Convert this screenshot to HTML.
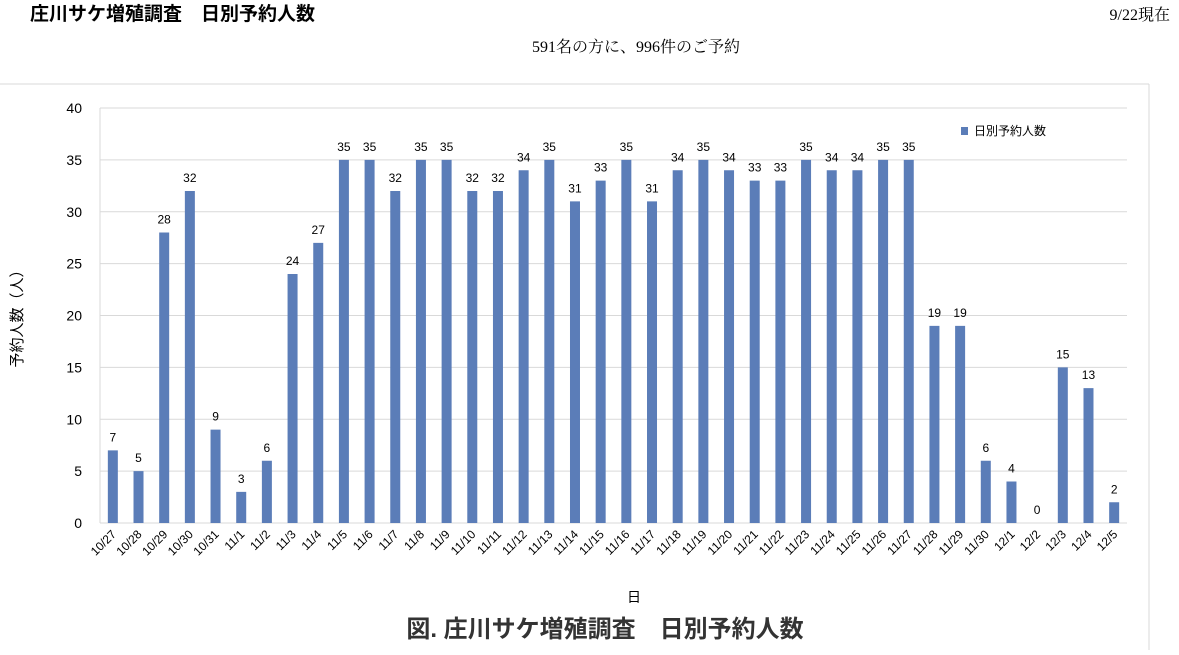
<!DOCTYPE html>
<html><head><meta charset="utf-8">
<style>
body{margin:0;background:#fff;width:1179px;height:650px;overflow:hidden;font-family:"Liberation Sans","Noto Sans CJK JP",sans-serif;}
</style></head>
<body>
<svg width="1179" height="650" xmlns="http://www.w3.org/2000/svg">
<text x="30" y="20" font-size="19" font-weight="bold" font-family="Liberation Sans,Noto Sans CJK JP,sans-serif">庄川サケ増殖調査　日別予約人数</text>
<text x="1170" y="20" font-size="16" text-anchor="end" font-family="Liberation Serif,Noto Serif CJK SC,serif">9/22現在</text>
<text x="636" y="52" font-size="16" text-anchor="middle" font-family="Liberation Serif,Noto Serif CJK SC,serif">591名の方に、996件のご予約</text>
<line x1="0" y1="84" x2="1149" y2="84" stroke="#d9d9d9"/>
<line x1="1149" y1="84" x2="1149" y2="650" stroke="#d9d9d9"/>
<g id="grid"></g><g id="bars"></g><g id="labels"></g>
<text transform="translate(22,315) rotate(-90)" font-size="15" text-anchor="middle">予約人数（人）</text>
<text x="634" y="602" font-size="14" text-anchor="middle">日</text>
<rect x="961" y="127" width="7" height="8" fill="#5b7db8"/>
<text x="974" y="135" font-size="12">日別予約人数</text>
<text x="605" y="637" font-size="24" font-weight="bold" text-anchor="middle" fill="#333">図. 庄川サケ増殖調査　日別予約人数</text>
</svg>
<script>
const categories=["10/27","10/28","10/29","10/30","10/31","11/1","11/2","11/3","11/4","11/5","11/6","11/7","11/8","11/9","11/10","11/11","11/12","11/13","11/14","11/15","11/16","11/17","11/18","11/19","11/20","11/21","11/22","11/23","11/24","11/25","11/26","11/27","11/28","11/29","11/30","12/1","12/2","12/3","12/4","12/5"];
const values=[7,5,28,32,9,3,6,24,27,35,35,32,35,35,32,32,34,35,31,33,35,31,34,35,34,33,33,35,34,34,35,35,19,19,6,4,0,15,13,2];
const yTicks=[0,5,10,15,20,25,30,35,40];
const NS="http://www.w3.org/2000/svg";
const L=100,R=1127,T=108,B=523,YMAX=40;
const y=v=>B-(v/YMAX)*(B-T);
const step=(R-L)/categories.length;
const x=i=>L+step*(i+0.5);
function mk(t,a,p){const e=document.createElementNS(NS,t);for(const k in a)e.setAttribute(k,a[k]);p.appendChild(e);return e;}
const grid=document.getElementById('grid'),bars=document.getElementById('bars'),labels=document.getElementById('labels');
yTicks.forEach(v=>{
 const l=mk('line',{x1:L,x2:R,y1:y(v),y2:y(v),stroke:'#d9d9d9'},grid);
 
 
 const t=mk('text',{x:82,y:y(v)+5,'font-size':14,'text-anchor':'end'},grid);
 t.textContent=v;
 
 
});
const ax=mk('line',{x1:L,x2:L,y1:T,y2:B,stroke:'#d9d9d9'},grid);


values.forEach((v,i)=>{
 const r=mk('rect',{x:x(i)-5,y:y(v),width:10,height:B-y(v),fill:'#5b7db8'},bars);
 
 
 const t=mk('text',{x:x(i),y:y(v)-9,'font-size':12,'text-anchor':'middle'},labels);
 t.textContent=v;
 
 
 const c=mk('text',{transform:`translate(${x(i)+4},${B+12}) rotate(-45)`,'font-size':12,'text-anchor':'end'},labels);
 c.textContent=categories[i];
 
 
});
</script>
</body></html>
